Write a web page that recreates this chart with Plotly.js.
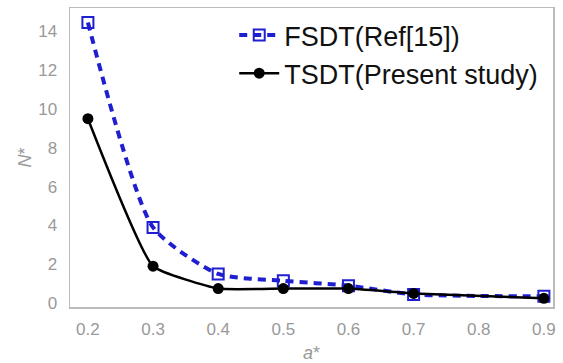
<!DOCTYPE html>
<html><head><meta charset="utf-8">
<script src="https://cdn.plot.ly/plotly-3.0.1.min.js"></script>
<style>html,body{margin:0;padding:0;background:#fff}#c{width:563px;height:363px}</style>
</head><body><div id="c"></div>
<script>
const aStar = [0.2, 0.3, 0.4, 0.5, 0.6, 0.7, 0.9];
const fsdt = [14.45, 3.9, 1.5, 1.15, 0.9, 0.45, 0.35];
const tsdt = [9.5, 1.9, 0.75, 0.75, 0.75, 0.5, 0.25];
const xTicks = [0.2, 0.3, 0.4, 0.5, 0.6, 0.7, 0.8, 0.9];
const yTicks = [0, 2, 4, 6, 8, 10, 12, 14];

const traces = [
  {x: aStar, y: fsdt, name: 'FSDT(Ref[15])', mode: 'lines+markers',
   line: {color: '#1f1fd0', width: 4, dash: '8px,6px', shape: 'spline', smoothing: 0.6},
   marker: {symbol: 'square-open', size: 11, color: '#1f1fd0', line: {width: 2}}},
  {x: aStar, y: tsdt, name: 'TSDT(Present study)', mode: 'lines+markers',
   line: {color: '#000', width: 2.5, shape: 'spline', smoothing: 0.4},
   marker: {symbol: 'circle', size: 11, color: '#000'}}
];
const layout = {
  width: 563, height: 363,
  margin: {l: 70, r: 10, t: 8, b: 56},
  paper_bgcolor: '#fff', plot_bgcolor: '#fff',
  font: {family: 'Liberation Sans, Arial, sans-serif', color: '#888'},
  showlegend: true,
  legend: {x: 0.34, y: 0.99, xanchor: 'left', yanchor: 'top', bgcolor: 'rgba(0,0,0,0)',
    font: {size: 27, color: '#111'}, tracegroupgap: 0, itemwidth: 40},
  xaxis: {range: [0.1725, 0.914], tickvals: xTicks, ticktext: xTicks.map(v => v.toFixed(1)),
    showgrid: false, zeroline: false, showline: true, linecolor: '#bbb', linewidth: 1.5, mirror: true,
    ticks: '', ticklabelstandoff: 6, tickfont: {size: 17, color: '#999'},
    title: {text: '<i>a</i>*', font: {size: 18, color: '#999'}, standoff: 10}},
  yaxis: {range: [-0.2, 15.2], tickvals: yTicks, ticktext: yTicks.map(String),
    showgrid: false, zeroline: false, showline: true, linecolor: '#bbb', linewidth: 1.5, mirror: true,
    ticks: '', ticklabelstandoff: 8, tickfont: {size: 17, color: '#999'},
    title: {text: '<i>N</i>*', font: {size: 18, color: '#999'}, standoff: 2}}
};
Plotly.newPlot('c', traces, layout, {displayModeBar: false, staticPlot: true});
</script></body></html>
